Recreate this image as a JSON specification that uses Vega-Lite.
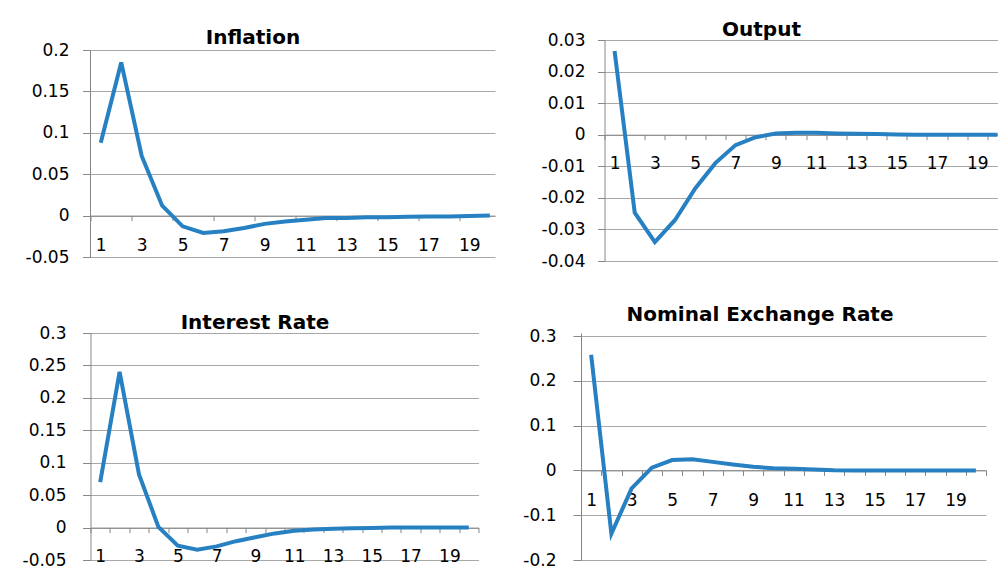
{
  "$schema": "https://vega.github.io/schema/vega-lite/v6.json",
  "padding": {"left": 21.5, "top": 0, "right": 0, "bottom": 0},
  "background": "white",
  "align": "none",
  "bounds": "full",
  "spacing": 0,
  "config": {
    "font": "DejaVu Sans",
    "view": {"stroke": null},
    "title": {"font": "DejaVu Sans", "fontSize": 20, "fontWeight": "bold", "color": "#000000", "anchor": "middle"},
    "axis": {"labelFont": "DejaVu Sans", "labelFontSize": 17, "labelColor": "#000000", "domainColor": "#878787", "tickColor": "#878787", "gridColor": "#a8a8a8", "title": null, "labelOverlap": false, "labelFlush": false, "labelBound": false}
  },
  "vconcat": [
    {
      "align": "none",
      "bounds": "full",
      "spacing": 42,
      "hconcat": [
        {
          "width": 404.5, "height": 217,
          "title": {"text": ["", "Inflation"], "lineHeight": 27, "offset": -7.5, "dx": -39.75},
          "layer": [
            {
              "data": {"values": [
                {"period": 1, "value": 0.088}, {"period": 2, "value": 0.185}, {"period": 3, "value": 0.072}, {"period": 4, "value": 0.012},
                {"period": 5, "value": -0.013}, {"period": 6, "value": -0.021}, {"period": 7, "value": -0.019}, {"period": 8, "value": -0.015},
                {"period": 9, "value": -0.010}, {"period": 10, "value": -0.007}, {"period": 11, "value": -0.005}, {"period": 12, "value": -0.003},
                {"period": 13, "value": -0.003}, {"period": 14, "value": -0.002}, {"period": 15, "value": -0.002}, {"period": 16, "value": -0.0015},
                {"period": 17, "value": -0.001}, {"period": 18, "value": -0.001}, {"period": 19, "value": -0.0005}, {"period": 20, "value": 0}
              ]},
              "mark": {"type": "line", "color": "#2680C2", "strokeWidth": 4},
              "encoding": {
                "x": {"field": "period", "type": "quantitative", "scale": {"domain": [0.5, 20.25], "nice": false, "zero": false},
                  "axis": {"values": [0.5,1.5,2.5,3.5,4.5,5.5,6.5,7.5,8.5,9.5,10.5,11.5,12.5,13.5,14.5,15.5,16.5,17.5,18.5,19.5], "offset": -41.4, "grid": false, "tickSize": 5, "labelPadding": 17, "labelOffset": 10.2, "labelExpr": "(datum.value + 0.5) % 2 == 1 && datum.value < 20 ? '' + (datum.value + 0.5) : ''"}},
                "y": {"field": "value", "type": "quantitative", "scale": {"domain": [-0.05, 0.21208], "nice": false, "zero": false},
                  "axis": {"values": [-0.05, 0, 0.05, 0.1, 0.15, 0.2], "tickSize": 8, "labelPadding": 13.5, "grid": true, "domain": false, "labelExpr": "'' + datum.value"}}
              }
            },
            {
              "data": {"values": [{}]},
              "mark": {"type": "rule", "color": "#878787", "strokeWidth": 1},
              "encoding": {
                "x": {"datum": 0.5, "type": "quantitative"},
                "y": {"datum": -0.05, "type": "quantitative"},
                "y2": {"datum": 0.2}
              }
            }
          ]
        },
        {
          "width": 393, "height": 221,
          "title": {"text": ["", "Output"], "lineHeight": 20, "offset": -9, "dx": -39.5},
          "data": {"values": [
            {"period": 1, "value": 0.0265}, {"period": 2, "value": -0.0247}, {"period": 3, "value": -0.034}, {"period": 4, "value": -0.027},
            {"period": 5, "value": -0.017}, {"period": 6, "value": -0.009}, {"period": 7, "value": -0.0033}, {"period": 8, "value": -0.0008},
            {"period": 9, "value": 0.0004}, {"period": 10, "value": 0.0006}, {"period": 11, "value": 0.0006}, {"period": 12, "value": 0.0004},
            {"period": 13, "value": 0.0003}, {"period": 14, "value": 0.0002}, {"period": 15, "value": 0.0001}, {"period": 16, "value": 0},
            {"period": 17, "value": 0}, {"period": 18, "value": 0}, {"period": 19, "value": 0}, {"period": 20, "value": 0}
          ]},
          "mark": {"type": "line", "color": "#2680C2", "strokeWidth": 4},
          "encoding": {
            "x": {"field": "period", "type": "quantitative", "scale": {"domain": [0.5, 20], "nice": false, "zero": false},
              "axis": {"values": [0.5,1.5,2.5,3.5,4.5,5.5,6.5,7.5,8.5,9.5,10.5,11.5,12.5,13.5,14.5,15.5,16.5,17.5,18.5,19.5], "offset": -126.3, "grid": false, "tickSize": 5, "labelPadding": 16, "labelOffset": 10.1, "labelExpr": "(datum.value + 0.5) % 2 == 1 && datum.value < 20 ? '' + (datum.value + 0.5) : ''"}},
            "y": {"field": "value", "type": "quantitative", "scale": {"domain": [-0.04, 0.03], "nice": false, "zero": false},
              "axis": {"values": [-0.04, -0.03, -0.02, -0.01, 0, 0.01, 0.02, 0.03], "tickSize": 7, "labelPadding": 12.5, "grid": true, "labelExpr": "'' + datum.value"}}
          }
        }
      ]
    },
    {
      "align": "none",
      "bounds": "full",
      "spacing": 33.5,
      "hconcat": [
        {
          "width": 388, "height": 227,
          "title": {"text": ["", "Interest Rate"], "lineHeight": 43.5, "offset": -9, "dx": -29.5},
          "data": {"values": [
            {"period": 1, "value": 0.07}, {"period": 2, "value": 0.24}, {"period": 3, "value": 0.082}, {"period": 4, "value": 0.001},
            {"period": 5, "value": -0.028}, {"period": 6, "value": -0.034}, {"period": 7, "value": -0.029}, {"period": 8, "value": -0.021},
            {"period": 9, "value": -0.015}, {"period": 10, "value": -0.009}, {"period": 11, "value": -0.005}, {"period": 12, "value": -0.003},
            {"period": 13, "value": -0.002}, {"period": 14, "value": -0.001}, {"period": 15, "value": -0.0005}, {"period": 16, "value": 0},
            {"period": 17, "value": 0}, {"period": 18, "value": 0}, {"period": 19, "value": 0}, {"period": 20, "value": 0}
          ]},
          "mark": {"type": "line", "color": "#2680C2", "strokeWidth": 4},
          "encoding": {
            "x": {"field": "period", "type": "quantitative", "scale": {"domain": [0.5, 20.5], "nice": false, "zero": false},
              "axis": {"values": [0.5,1.5,2.5,3.5,4.5,5.5,6.5,7.5,8.5,9.5,10.5,11.5,12.5,13.5,14.5,15.5,16.5,17.5,18.5,19.5,20.5], "offset": -32.4, "grid": false, "tickSize": 5, "labelPadding": 16, "labelOffset": 9.7, "labelExpr": "(datum.value + 0.5) % 2 == 1 && datum.value < 20 ? '' + (datum.value + 0.5) : ''"}},
            "y": {"field": "value", "type": "quantitative", "scale": {"domain": [-0.05, 0.3], "nice": false, "zero": false},
              "axis": {"values": [-0.05, 0, 0.05, 0.1, 0.15, 0.2, 0.25, 0.3], "tickSize": 8, "labelPadding": 16.5, "grid": true, "labelExpr": "'' + datum.value"}}
          }
        },
        {
          "width": 405, "height": 227,
          "title": {"text": ["", "Nominal Exchange Rate"], "lineHeight": 35.5, "offset": 2, "dx": -23.5},
          "data": {"values": [
            {"period": 1, "value": 0.258}, {"period": 2, "value": -0.1415}, {"period": 3, "value": -0.04}, {"period": 4, "value": 0.006},
            {"period": 5, "value": 0.023}, {"period": 6, "value": 0.025}, {"period": 7, "value": 0.019}, {"period": 8, "value": 0.013},
            {"period": 9, "value": 0.008}, {"period": 10, "value": 0.005}, {"period": 11, "value": 0.0035}, {"period": 12, "value": 0.002},
            {"period": 13, "value": 0.0005}, {"period": 14, "value": 0}, {"period": 15, "value": 0}, {"period": 16, "value": 0},
            {"period": 17, "value": 0}, {"period": 18, "value": 0}, {"period": 19, "value": 0}, {"period": 20, "value": 0}
          ]},
          "mark": {"type": "line", "color": "#2680C2", "strokeWidth": 4},
          "encoding": {
            "x": {"field": "period", "type": "quantitative", "scale": {"domain": [0.5, 20.5], "nice": false, "zero": false},
              "axis": {"values": [0.5,1.5,2.5,3.5,4.5,5.5,6.5,7.5,8.5,9.5,10.5,11.5,12.5,13.5,14.5,15.5,16.5,17.5,18.5,19.5,20.5], "offset": -89.6, "grid": false, "tickSize": 5, "labelPadding": 17, "labelOffset": 10.1, "labelExpr": "(datum.value + 0.5) % 2 == 1 && datum.value < 20 ? '' + (datum.value + 0.5) : ''"}},
            "y": {"field": "value", "type": "quantitative", "scale": {"domain": [-0.2, 0.3067], "nice": false, "zero": false},
              "axis": {"values": [-0.2, -0.1, 0, 0.1, 0.2, 0.3], "tickSize": 8, "labelPadding": 17, "grid": true, "labelExpr": "'' + datum.value"}}
          }
        }
      ]
    }
  ]
}
